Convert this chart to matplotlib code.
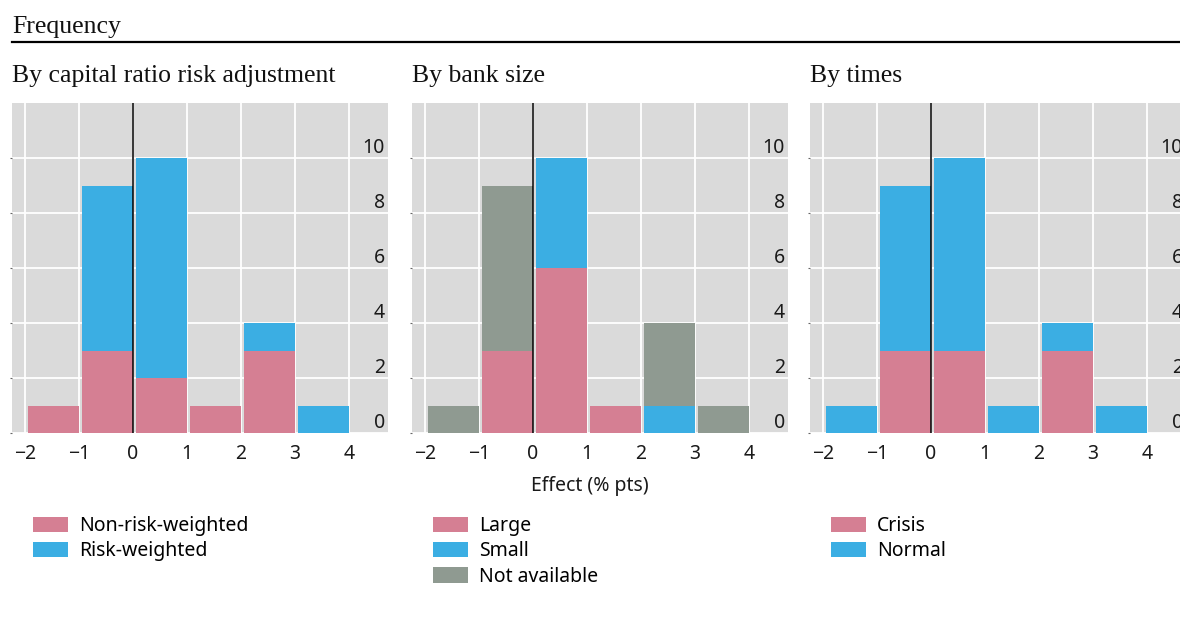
import matplotlib
matplotlib.use('Agg')
import matplotlib.pyplot as plt
import matplotlib.transforms as mtransforms
import numpy as np

# Histogram bins (left edges), width 1 percentage point
bin_edges = [-2, -1, 0, 1, 2, 3]

# Panel 1: by capital ratio risk adjustment
non_risk_weighted = [1, 3, 2, 1, 3, 0]
risk_weighted = [0, 6, 8, 0, 1, 1]

# Panel 2: by bank size
large = [0, 3, 6, 1, 0, 0]
small = [0, 0, 4, 0, 1, 0]
not_available = [1, 6, 0, 0, 3, 1]

# Panel 3: by times
crisis = [0, 3, 3, 0, 3, 0]
normal = [1, 6, 7, 1, 1, 1]

titles = ['By capital ratio risk adjustment', 'By bank size', 'By times']
xtick_vals = [-2, -1, 0, 1, 2, 3, 4]
ytick_vals = [0, 2, 4, 6, 8, 10]

PINK = '#D57F93'
BLUE = '#3BAEE3'
GREY = '#8F9A91'
BG = '#DADADA'

SANS = ['Noto Sans', 'DejaVu Sans']
SERIF = ['Liberation Serif', 'DejaVu Serif']
plt.rcParams['font.family'] = SANS
plt.rcParams['axes.unicode_minus'] = True

W, H = 1180, 639
fig = plt.figure(figsize=(W / 100, H / 100), dpi=100)

panels = [
    [(non_risk_weighted, PINK, 'Non-risk-weighted'), (risk_weighted, BLUE, 'Risk-weighted')],
    [(large, PINK, 'Large'), (small, BLUE, 'Small'), (not_available, GREY, 'Not available')],
    [(crisis, PINK, 'Crisis'), (normal, BLUE, 'Normal')],
]

ax_left_px = [12, 412, 810]
ax_w_px = 376
ax_top_px, ax_bot_px = 103, 433.3

for i, series in enumerate(panels):
    ax = fig.add_axes([ax_left_px[i] / W, 1 - ax_bot_px / H,
                       ax_w_px / W, (ax_bot_px - ax_top_px) / H])
    ax.set_facecolor(BG)
    for s in ax.spines.values():
        s.set_visible(False)
    ax.set_xlim(-2.24, 4.72)
    ax.set_ylim(0, 12)
    ax.set_xticks(xtick_vals)
    ax.set_xticklabels([f'{v}'.replace('-', '\u2212') for v in xtick_vals])
    ax.set_yticks(ytick_vals)
    ax.set_yticklabels([])
    ax.tick_params(axis='x', length=0, pad=8, labelsize=14, colors='#1a1a1a')
    ax.tick_params(axis='y', length=1.5, width=0.8, color='#666666')
    ax.grid(True, color='white', linewidth=1.3)
    ax.set_axisbelow(True)

    bottom = np.zeros(len(bin_edges))
    for vals, col, lab in series:
        ax.bar(np.array(bin_edges) + 0.06, vals, width=0.94, bottom=bottom,
               align='edge', color=col, label=lab, linewidth=0, zorder=2)
        bottom += np.array(vals)

    ax.axvline(0, color='black', linewidth=1.1, zorder=3)

    # y labels inside the plot, right aligned above the grid lines
    trans = mtransforms.offset_copy(
        mtransforms.blended_transform_factory(ax.transAxes, ax.transData),
        fig=fig, x=-3, y=5, units='dots')
    for v in ytick_vals:
        ax.text(1.0, v, str(v), transform=trans, ha='right', va='baseline',
                fontsize=14, color='#1a1a1a', zorder=4)

    fig.text(ax_left_px[i] / W, 1 - 82 / H, titles[i], family=SERIF,
             fontsize=18.5, va='baseline', ha='left', color='#111111')

    ax.legend(loc='upper left', bbox_to_anchor=((ax_left_px[i] + 21) / W, 1 - 516 / H),
              bbox_transform=fig.transFigure, frameon=False, fontsize=14,
              handlelength=1.8, handleheight=0.85, handletextpad=0.55,
              labelspacing=0.28, borderpad=0, borderaxespad=0)

    if i == 1:
        ax.set_xlabel('Effect (% pts)', fontsize=14, color='#1a1a1a')
        ax.xaxis.set_label_coords((590 - ax_left_px[i]) / ax_w_px, -0.13)
        ax.xaxis.label.set_va('top')

fig.text(12 / W, 1 - 33 / H, 'Frequency', family=SERIF, fontsize=18.5,
         va='baseline', ha='left', color='#111111')
fig.add_artist(plt.Line2D([12 / W, 1.0], [1 - 42 / H, 1 - 42 / H],
                          color='black', linewidth=1.6, transform=fig.transFigure))

fig.savefig('out.png', dpi=100, facecolor='white')
